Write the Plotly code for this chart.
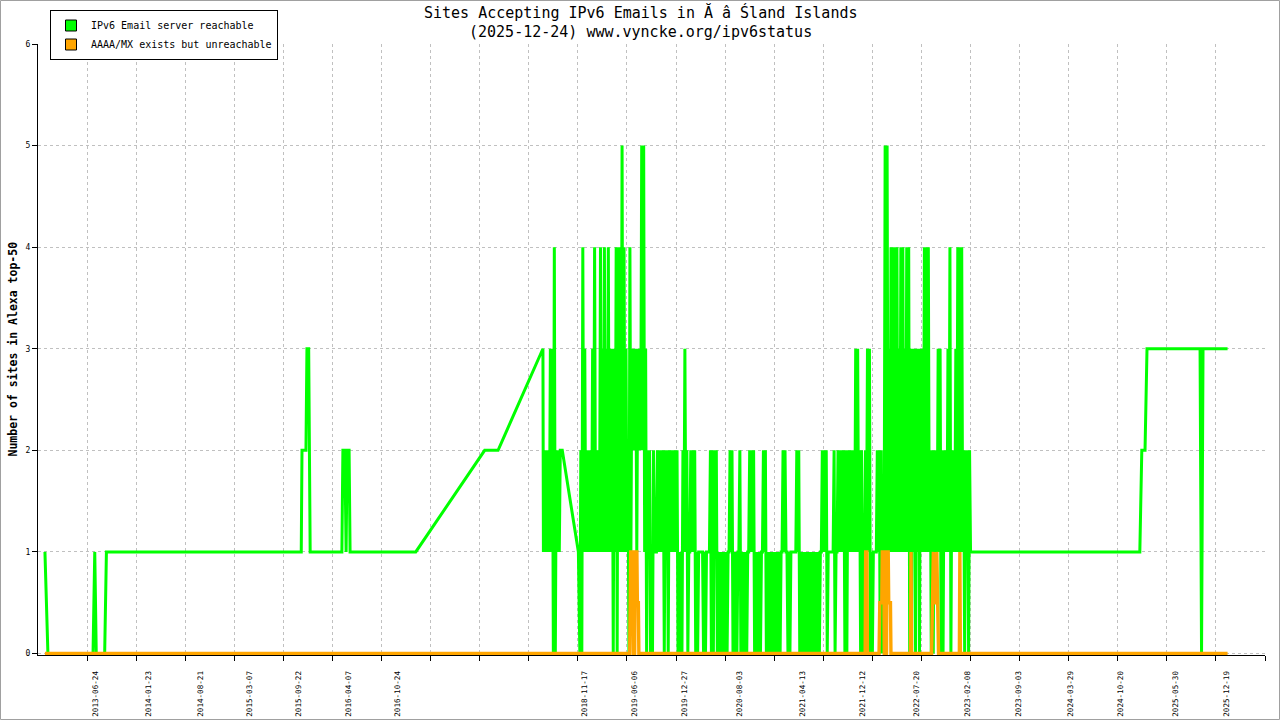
import pandas as pd
import plotly.graph_objects as go

# ---------------- data ----------------
AXIS_START = "2012-11-03"      # left edge of the time axis
AXIS_DAYS = 4950               # span of the time axis in days
TICK_DAYS = 198                # spacing of major ticks / vertical grid

# x values are "days since AXIS_START"
# Green: IPv6 Email server reachable (sparse part)
G_SPARSE1_DAYS = [28, 40, 222, 229, 235, 269, 276,
                  1062, 1065, 1081, 1085, 1092, 1098,
                  1226, 1230, 1238, 1243, 1247, 1255, 1259,
                  1524, 1802, 1856, 2037]
G_SPARSE1_VALS = [1, 0, 0, 1, 0, 0, 1,
                  1, 2, 2, 3, 3, 1,
                  1, 2, 2, 1, 2, 2, 1,
                  1, 2, 2, 3]

# dense periods: per time slot, the lowest and highest value seen in that slot
G_DENSE1_START = 2039
G_DENSE1_STEP = 8
G_DENSE1_LO = [1, 1, 1, 1, 1, 0, 0, 1, 1, 2]
G_DENSE1_HI = [2, 2, 2, 3, 3, 4, 2, 2, 2, 2]

G_SPARSE2_DAYS = [2180]
G_SPARSE2_VALS = [1]

G_DENSE2_START = 2186
G_DENSE2_STEP = 7.92
G_DENSE2_LO = [
    0, 0, 1, 1, 1, 1, 1, 1, 1, 1, 1, 1, 1, 1, 1, 1, 1, 0, 1, 0,
    1, 1, 1, 1, 1, 0, 1, 2, 2, 1, 2, 2, 2, 1, 0, 1, 0, 0, 1, 1,
    1, 1, 1, 0, 1, 0, 1, 1, 1, 1, 0, 0, 0, 1, 1, 0, 1, 1, 1, 0,
    0, 1, 1, 0, 0, 1, 1, 0, 0, 1, 0, 0, 0, 0, 0, 0, 1, 1, 0, 0,
    0, 1, 0, 0, 0, 0, 1, 1, 1, 0, 0, 0, 0, 1, 1, 0, 0, 0, 0, 0,
    0, 0, 0, 1, 1, 1, 0, 0, 1, 1, 1, 1, 0, 0, 0, 0, 0, 0, 0, 0,
    0, 0, 0, 1, 1, 1, 0, 1, 1, 1, 0, 1, 1, 1, 1, 0, 0, 1, 1, 1,
    1, 1, 1, 0, 0, 1, 1, 1, 0, 0, 1, 1, 1, 0, 0, 1, 1, 1, 1, 1,
    1, 1, 1, 1, 1, 1, 1, 1, 0, 0, 1, 0, 1, 0, 1, 1, 1, 1, 1, 0,
    0, 1, 1, 1, 0, 0, 1, 1, 1, 0, 1, 1, 1, 1, 1, 1, 0, 1, 0, 1,
]
G_DENSE2_HI = [
    2, 4, 3, 2, 2, 2, 3, 4, 2, 2, 4, 3, 4, 3, 4, 3, 3, 3, 4, 4,
    4, 5, 4, 3, 2, 4, 3, 3, 3, 3, 3, 5, 5, 3, 2, 2, 1, 2, 1, 2,
    2, 2, 2, 2, 2, 2, 2, 2, 2, 2, 1, 1, 2, 3, 2, 1, 2, 2, 2, 1,
    1, 1, 1, 1, 1, 1, 2, 2, 2, 2, 1, 1, 1, 1, 1, 1, 2, 2, 1, 1,
    1, 2, 1, 1, 1, 1, 2, 2, 2, 1, 1, 1, 1, 2, 2, 1, 1, 1, 1, 1,
    1, 1, 1, 2, 2, 1, 1, 1, 1, 1, 2, 2, 1, 1, 1, 1, 1, 1, 1, 1,
    1, 1, 1, 2, 2, 2, 1, 1, 1, 2, 1, 2, 2, 2, 2, 2, 2, 2, 2, 2,
    3, 3, 2, 2, 1, 2, 3, 3, 1, 1, 1, 2, 2, 2, 1, 5, 5, 3, 4, 4,
    4, 4, 3, 4, 4, 3, 4, 4, 3, 3, 3, 3, 3, 3, 3, 4, 4, 4, 2, 2,
    2, 2, 3, 3, 2, 2, 2, 3, 4, 2, 2, 3, 4, 4, 4, 2, 2, 2, 2, 1,
]

G_SPARSE3_DAYS = [4445, 4453, 4466, 4474, 4688, 4694, 4700, 4799]
G_SPARSE3_VALS = [1, 2, 2, 3, 3, 0, 3, 3]

# Orange: AAAA/MX exists but unreachable
O_DAYS = [28,
          2387, 2391, 2399, 2402,
          2407, 2410, 2416, 2418, 2422, 2424,
          3337, 3339, 3344, 3346,
          3393, 3396, 3404, 3406, 3412, 3414,
          3423, 3425, 3430, 3432, 3439, 3441,
          3520, 3522, 3524,
          3605, 3608, 3612, 3614, 3624, 3626, 3628, 3631, 3633,
          3717, 3719, 3721,
          4799]
O_VALS = [0,
          0, 1, 1, 0,
          0, 1, 1, 0.5, 0.5, 0,
          0, 1, 1, 0,
          0, 0.5, 0.5, 1, 1, 0,
          0, 1, 1, 0.5, 0.5, 0,
          0, 1, 0,
          0, 0.5, 1, 0.5, 0.5, 1, 0.5, 0.5, 0,
          0, 1, 0,
          0]

LABEL_DATES = ["2013-06-24", "2014-01-23", "2014-08-21", "2015-03-07",
               "2015-09-22", "2016-04-07", "2016-10-24", "2018-11-17",
               "2019-06-06", "2019-12-27", "2020-08-03", "2021-04-13",
               "2021-12-12", "2022-07-20", "2023-02-08", "2023-09-03",
               "2024-03-29", "2024-10-20", "2025-05-30", "2025-12-19"]

Y_TICKS = [0, 1, 2, 3, 4, 5, 6]

TITLE_1 = "Sites Accepting IPv6 Emails in Ă â Śland Islands"
TITLE_2 = "(2025-12-24) www.vyncke.org/ipv6status"
Y_TITLE = "Number of sites in Alexa top-50"
NAME_OK = "IPv6 Email server reachable"
NAME_BAD = "AAAA/MX exists but unreachable"

GREEN = "#00ff00"
ORANGE = "#ffa500"
MONO = "DejaVu Sans Mono"

# ---------------- build series ----------------
t0 = pd.Timestamp(AXIS_START)


def to_dates(days):
    return [t0 + pd.to_timedelta(d, unit="D") for d in days]


def envelope(start, step, lo, hi):
    days, vals = [], []
    for i, (a, b) in enumerate(zip(lo, hi)):
        days += [start + i * step, start + (i + 0.5) * step]
        vals += [a, b]
    return days, vals


d1_days, d1_vals = envelope(G_DENSE1_START, G_DENSE1_STEP, G_DENSE1_LO, G_DENSE1_HI)
d2_days, d2_vals = envelope(G_DENSE2_START, G_DENSE2_STEP, G_DENSE2_LO, G_DENSE2_HI)

g_days = G_SPARSE1_DAYS + d1_days + G_SPARSE2_DAYS + d2_days + G_SPARSE3_DAYS
g_vals = G_SPARSE1_VALS + d1_vals + G_SPARSE2_VALS + d2_vals + G_SPARSE3_VALS

x_end = t0 + pd.to_timedelta(AXIS_DAYS, unit="D")
tick_vals = to_dates([k * TICK_DAYS for k in range(1, AXIS_DAYS // TICK_DAYS + 1)])
label_vals = [pd.Timestamp(d) for d in LABEL_DATES]

fig = go.Figure()
fig.add_trace(go.Scatter(x=to_dates(g_days), y=g_vals, mode="lines",
                         line=dict(color=GREEN, width=3), showlegend=False,
                         hoverinfo="skip"))
fig.add_trace(go.Scatter(x=to_dates(O_DAYS), y=O_VALS, mode="lines",
                         line=dict(color=ORANGE, width=3.4), showlegend=False,
                         hoverinfo="skip"))
# legend swatches
for name, col in [(NAME_OK, GREEN), (NAME_BAD, ORANGE)]:
    fig.add_trace(go.Scatter(x=[None], y=[None], mode="markers", name=name,
                             xaxis="x2",
                             marker=dict(symbol="square", size=11, color=col,
                                         line=dict(color="black", width=1))))

W, H = 1280, 720
ML, MR, MT, MB = 38, 15, 44, 65
pw, ph = W - ML - MR, H - MT - MB


def px_x(px):
    return (px - ML) / pw


def px_y(py):
    return (H - MB - py) / ph


fig.update_layout(
    width=W, height=H,
    margin=dict(l=ML, r=MR, t=MT, b=MB, autoexpand=False),
    paper_bgcolor="white", plot_bgcolor="white",
    font=dict(family=MONO, color="black"),
    xaxis=dict(type="date", range=[t0, x_end], tickvals=tick_vals,
               showticklabels=False, ticks="outside", ticklen=5,
               tickcolor="black", showline=True, linecolor="black",
               linewidth=1, showgrid=True, gridcolor="#c0c0c0",
               griddash="dot", gridwidth=1, zeroline=False, automargin=False),
    xaxis2=dict(type="date", range=[t0, x_end], overlaying="x", side="bottom",
                anchor="y", tickvals=label_vals,
                ticktext=LABEL_DATES, tickangle=-90, ticks="outside",
                ticklen=12, tickcolor="rgba(0,0,0,0)", showgrid=False,
                showline=False, zeroline=False, automargin=False,
                tickfont=dict(family=MONO, size=7.6, color="black")),
    yaxis=dict(range=[-0.015, 6], tickvals=Y_TICKS, ticks="outside", ticklen=5,
               tickcolor="black", showline=True, linecolor="black",
               linewidth=1, showgrid=True, gridcolor="#c0c0c0",
               griddash="dot", gridwidth=1, zeroline=False, automargin=False,
               tickfont=dict(family=MONO, size=8, color="black")),
    legend=dict(x=px_x(50), y=px_y(10), xanchor="left",
                yanchor="top", bgcolor="white", bordercolor="black",
                borderwidth=1, font=dict(family=MONO, size=10, color="black"),
                itemwidth=30, tracegroupgap=0),
    annotations=[
        dict(text=TITLE_1, xref="paper", yref="paper", x=px_x(640), y=px_y(13),
             showarrow=False, xanchor="center", yanchor="middle",
             font=dict(family=MONO, size=15, color="black")),
        dict(text=TITLE_2, xref="paper", yref="paper", x=px_x(640), y=px_y(32),
             showarrow=False, xanchor="center", yanchor="middle",
             font=dict(family=MONO, size=15, color="black")),
        dict(text="<b>" + Y_TITLE + "</b>", xref="paper", yref="paper",
             x=px_x(12), y=0.5, textangle=-90, showarrow=False,
             xanchor="center", yanchor="middle",
             font=dict(family=MONO, size=11.5, color="black")),
    ],
    shapes=[dict(type="rect", xref="paper", yref="paper",
                 x0=px_x(0.5), x1=px_x(W - 0.5),
                 y0=px_y(H - 0.5), y1=px_y(0.5),
                 line=dict(color="#a0a0a0", width=1), layer="below")],
)

fig.write_html("out.html", config={"displayModeBar": False},
               post_script="document.body.style.margin='0';"
                           "document.body.style.overflow='hidden';")
